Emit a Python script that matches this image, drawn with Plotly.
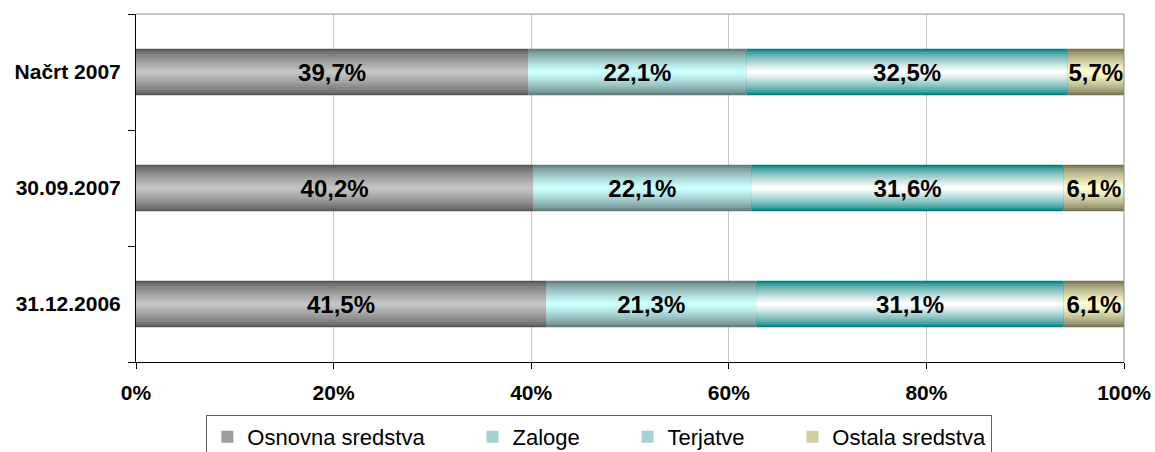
import plotly.graph_objects as go

categories = ["31.12.2006", "30.09.2007", "Načrt 2007"]
series_names = ["Osnovna sredstva", "Zaloge", "Terjatve", "Ostala sredstva"]
osnovna = [41.5, 40.2, 39.7]
zaloge = [21.3, 22.1, 22.1]
terjatve = [31.1, 31.6, 32.5]
ostala = [6.1, 6.1, 5.7]
x_ticks = [0, 20, 40, 60, 80, 100]

series_values = [osnovna, zaloge, terjatve, ostala]
edge_colors = [(88, 88, 88), (96, 124, 124), (0, 128, 128), (118, 114, 84)]
center_colors = [(196, 196, 196), (204, 255, 255), (255, 255, 255), (255, 255, 204)]

FONT = "Liberation Sans, Arial, sans-serif"
W = 0.40
N = 14
PAD = "\u00a0" * 7  # spacing between legend entries


def lerp(a, b, t):
    return "rgb(%d,%d,%d)" % tuple(round(a[i] + (b[i] - a[i]) * t) for i in range(3))


def fmt(v):
    return ("%.1f" % v).replace(".", ",") + "%"


fig = go.Figure()

bases = [0.0] * len(categories)
for si, (name, vals) in enumerate(zip(series_names, series_values)):
    legend_name = name + (PAD if si < len(series_names) - 1 else "")
    for k in range(N):
        t = (k / (N - 1)) ** 0.7
        fig.add_trace(go.Bar(
            x=vals, y=categories, base=list(bases), orientation="h",
            width=W * (1 - k / N),
            marker=dict(color=lerp(edge_colors[si], center_colors[si], t), line=dict(width=0)),
            name=legend_name, legendgroup=name, showlegend=(k == N // 2),
            hoverinfo="skip",
        ))
    fig.add_trace(go.Bar(
        x=vals, y=categories, base=list(bases), orientation="h", width=W,
        marker=dict(color="rgba(0,0,0,0)", line=dict(width=0)),
        text=[fmt(v) for v in vals], textposition="inside", insidetextanchor="middle",
        textangle=0, constraintext="none",
        textfont=dict(family=FONT, size=24, color="black", weight="bold"),
        showlegend=False, name=name, legendgroup=name,
    ))
    bases = [b + v for b, v in zip(bases, vals)]

# plot border top/right
fig.add_shape(type="line", xref="paper", yref="paper", x0=0, x1=1, y0=1, y1=1,
              line=dict(color="#8c8c8c", width=1))
fig.add_shape(type="line", xref="paper", yref="paper", x0=1, x1=1, y0=0, y1=1,
              line=dict(color="#8c8c8c", width=1))

fig.update_layout(
    width=1155, height=452,
    margin=dict(l=136, r=31, t=14, b=90, autoexpand=False),
    barmode="overlay",
    paper_bgcolor="white", plot_bgcolor="white",
    font=dict(family=FONT, color="black"),
    xaxis=dict(
        range=[0, 100], tickvals=x_ticks, ticktext=[f"{v}%" for v in x_ticks],
        showgrid=True, gridcolor="#c8c8c8", gridwidth=1,
        showline=True, linecolor="black", linewidth=1,
        ticks="outside", ticklen=6, tickcolor="black",
        tickfont=dict(family=FONT, size=21, color="black", weight="bold"),
        ticklabelstandoff=6, ticklabeloverflow="allow",
        zeroline=False, fixedrange=True, automargin=False,
    ),
    yaxis=dict(
        type="category", categoryorder="array", categoryarray=categories,
        showline=True, linecolor="black", linewidth=1,
        ticks="outside", ticklen=7, tickcolor="black", tickson="boundaries",
        tickfont=dict(family=FONT, size=21, color="black", weight="bold"),
        ticklabelstandoff=10, showgrid=False, fixedrange=True, automargin=False,
    ),
    legend=dict(
        orientation="h", x=0.469, xanchor="center", y=-0.152, yanchor="top",
        bordercolor="#606060", borderwidth=1, bgcolor="white",
        font=dict(family=FONT, size=22, color="black"),
        traceorder="normal",
    ),
)

fig.write_html(
    "out.html",
    config={"displayModeBar": False},
    post_script="document.body.style.margin='0';document.body.style.overflow='hidden';",
)
